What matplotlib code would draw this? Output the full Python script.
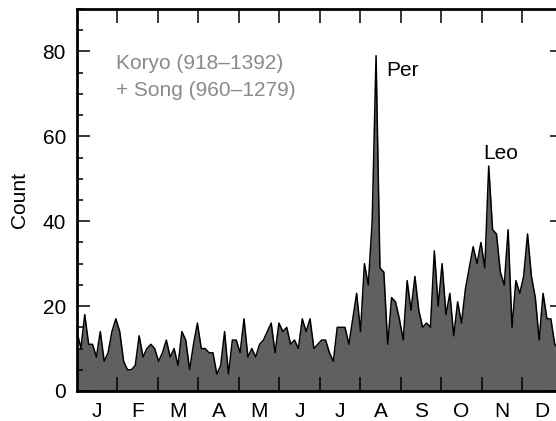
import matplotlib
matplotlib.use('Agg')
import matplotlib.pyplot as plt
import numpy as np
from matplotlib.ticker import MultipleLocator

# Counts per ~3-day bin across the year
counts = [14, 10, 18, 11, 11, 8, 14, 7, 9, 14,
          17, 14, 7, 5, 5, 6, 13, 8, 10, 11,
          10, 7, 9, 12, 8, 10, 6, 14, 12, 5,
          11, 16, 10, 10, 9, 9, 4, 6, 14, 4,
          12, 12, 9, 17, 8, 10, 8, 11, 12, 14,
          16, 9, 16, 14, 15, 11, 12, 10, 17, 14,
          17, 10, 11, 12, 12, 9, 7, 15, 15, 15,
          11, 17, 23, 14, 30, 25, 40, 79, 29, 28,
          11, 22, 21, 17, 12, 26, 19, 27, 19, 15,
          16, 15, 33, 20, 30, 18, 23, 13, 21, 16,
          24, 29, 34, 30, 35, 29, 53, 38, 37, 28,
          25, 38, 15, 26, 23, 27, 37, 27, 22, 12,
          23, 17, 17, 11, 10, 12]
first_fill = 10  # fill starts at this level at the left edge
months = ['J', 'F', 'M', 'A', 'M', 'J', 'J', 'A', 'S', 'O', 'N', 'D']
yticks = [0, 20, 40, 60, 80]

plt.rcParams['font.family'] = ['Liberation Sans', 'DejaVu Sans']

fig = plt.figure(figsize=(5.56, 4.21), dpi=100)
ax = fig.add_axes([77 / 556, 30 / 421, 485.5 / 556, 382 / 421])

x = np.linspace(0, 12, len(counts))
fill_vals = list(counts)
fill_vals[0] = first_fill
ax.fill_between(x, 0, fill_vals, color='#606060', lw=0, zorder=1)
ax.plot(x, counts, color='black', lw=1.1, zorder=2)

ax.set_xlim(0, 12)
ax.set_ylim(0, 90)

ax.set_xticks(range(1, 12))
ax.set_xticklabels([])
ax.set_xticks(np.arange(12) + 0.5, minor=True)
ax.set_xticklabels(months, minor=True)
ax.tick_params(axis='x', which='major', direction='in', length=10, width=1.1,
               top=True, bottom=True, labelbottom=False)
ax.tick_params(axis='x', which='minor', length=0, pad=8, labelsize=15,
               top=False, bottom=True)

ax.set_yticks(yticks)
ax.yaxis.set_minor_locator(MultipleLocator(5))
ax.tick_params(axis='y', which='major', direction='in', length=9.5, width=1.1,
               left=True, right=True, labelsize=15, pad=8)
ax.tick_params(axis='y', which='minor', direction='in', length=4.5, width=1.1,
               left=True, right=True)

for sp in ax.spines.values():
    sp.set_linewidth(2)

ax.set_ylabel('Count', fontsize=15)
ax.yaxis.set_label_coords(-0.098, 0.5)

ax.text(0.97, 75.8, 'Koryo (918\u20131392)', color='#8a8a8a', fontsize=15,
        ha='left', va='baseline')
ax.text(0.97, 69.6, '+ Song (960\u20131279)', color='#8a8a8a', fontsize=15,
        ha='left', va='baseline')
ax.text(7.65, 74.3, 'Per', color='black', fontsize=15, ha='left', va='baseline')
ax.text(10.46, 54.7, 'Leo', color='black', fontsize=15, ha='center', va='baseline')

fig.savefig('out.png', dpi=100)
